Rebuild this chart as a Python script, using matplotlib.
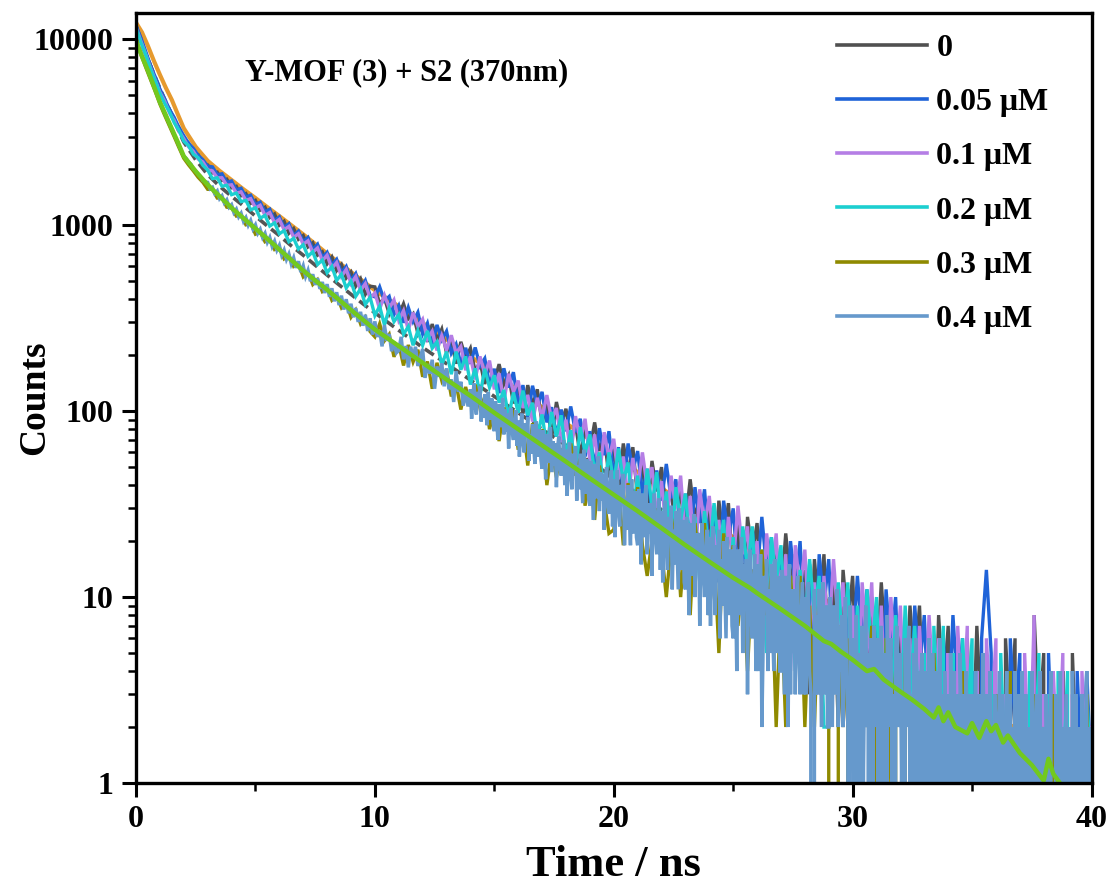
import numpy as np
import matplotlib
matplotlib.use("Agg")
import matplotlib.pyplot as plt
from matplotlib.ticker import MultipleLocator, LogLocator, NullFormatter

# ---------------- data ----------------
labels = ["0", "0.05 \u03bcM", "0.1 \u03bcM", "0.2 \u03bcM", "0.3 \u03bcM", "0.4 \u03bcM"]
colors = ["#505050", "#1f63d8", "#b57ee5", "#1ccfd0", "#8f8a00", "#6699cc"]

step_coarse = 0.2     # ns per point, series 0 ... 0.3 uM
step_04_early = 0.1   # ns per point, 0.4 uM, 0 - 14 ns
step_04_late = 0.05   # ns per point, 0.4 uM, 14 - 40 ns
t_04_split = 14.0

counts_0 = [
    11800, 10150, 8400, 7300, 6080, 5350, 4640, 4210, 3660, 3350,
    2920, 2770, 2470, 2400, 2150, 2110, 1910, 1930, 1740, 1770,
    1590, 1620, 1440, 1480, 1310, 1360, 1205, 1250, 1100, 1150,
    1000, 1050, 905, 960, 840, 880, 765, 805, 690, 720,
    620, 675, 570, 615, 520, 560, 470, 515, 425, 470,
    466, 378, 406, 334, 385, 329, 378, 314, 334, 262,
    299, 236, 294, 242, 276, 205, 241, 180, 236, 194,
    218, 163, 185, 140, 177, 144, 179, 139, 156, 110,
    136, 97, 138, 107, 131, 86, 111, 72, 112, 86,
    103, 68, 85, 57, 83, 62, 87, 61, 74, 44,
    63, 38, 67, 47, 64, 34, 52, 27, 54, 37,
    50, 28, 39, 21, 39, 25, 43, 26, 36, 16,
    30, 13, 33, 20, 32, 13, 25, 8, 27, 17,
    25, 10, 19, 6, 19, 10, 22, 12, 17, 5,
    14, 3, 16, 8, 17, 4, 12, 2, 14, 7,
    13, 3, 9, 2, 10, 4, 12, 5, 9, 2,
    7, 2, 9, 4, 9, 2, 6, 1, 8, 3,
    7, 1, 4, 0, 6, 1, 7, 2, 5, 0,
    3, 0, 6, 2, 6, 0, 4, 0, 8, 2,
    5, 0, 2, 0, 4, 0, 5, 1, 3, 0,
    2,
]
counts_005 = [
    11900, 10200, 8650, 7280, 6300, 5400, 4780, 4200, 3800, 3350,
    3030, 2760, 2590, 2380, 2250, 2080, 2060, 1870, 1890, 1700,
    1730, 1550, 1580, 1420, 1450, 1290, 1330, 1180, 1220, 1060,
    1110, 970, 1020, 880, 930, 815, 860, 740, 790, 670,
    715, 610, 655, 555, 600, 505, 550, 460, 505, 420,
    412, 466, 392, 414, 331, 370, 299, 361, 303, 340,
    260, 297, 229, 291, 242, 269, 205, 229, 179, 219,
    180, 220, 175, 192, 139, 169, 125, 170, 134, 162,
    109, 138, 93, 137, 107, 127, 87, 105, 73, 102,
    78, 106, 77, 91, 57, 78, 49, 81, 58, 78,
    44, 64, 36, 67, 48, 61, 36, 49, 28, 48,
    33, 52, 34, 43, 21, 36, 19, 39, 25, 38,
    17, 31, 12, 33, 21, 30, 13, 23, 10, 23,
    13, 27, 14, 21, 7, 17, 6, 20, 11, 20,
    6, 15, 3, 17, 9, 16, 4, 11, 2, 11,
    5, 13, 6, 11, 2, 8, 2, 11, 5, 10,
    2, 7, 2, 9, 4, 8, 2, 5, 1, 6,
    2, 8, 3, 6, 0, 4, 0, 6, 14, 5,
    0, 4, 0, 6, 2, 5, 0, 3, 0, 4,
    0, 5, 1, 3, 0, 2, 0, 4, 1, 4,
    1,
]
counts_01 = [
    11600, 9800, 8350, 7050, 6050, 5180, 4650, 4020, 3660, 3200,
    2920, 2640, 2500, 2270, 2190, 1990, 1960, 1800, 1800, 1640,
    1650, 1490, 1510, 1360, 1390, 1240, 1280, 1130, 1170, 1030,
    1075, 945, 985, 860, 900, 790, 825, 715, 755, 645,
    690, 585, 630, 530, 578, 485, 530, 445, 485, 405,
    432, 354, 420, 358, 396, 308, 347, 272, 339, 285,
    312, 244, 269, 212, 255, 213, 256, 205, 223, 166,
    197, 148, 197, 158, 187, 131, 160, 113, 159, 127,
    146, 104, 122, 88, 118, 92, 122, 90, 104, 68,
    90, 59, 94, 69, 91, 54, 75, 44, 77, 56,
    71, 43, 57, 34, 56, 39, 60, 39, 50, 27,
    42, 22, 45, 30, 45, 20, 35, 15, 38, 24,
    35, 17, 26, 12, 27, 15, 31, 17, 24, 9,
    20, 7, 22, 13, 22, 7, 17, 4, 19, 11,
    18, 6, 12, 3, 13, 6, 16, 7, 12, 2,
    9, 2, 12, 5, 12, 2, 9, 2, 10, 4,
    9, 2, 6, 1, 7, 2, 8, 3, 6, 0,
    5, 0, 7, 2, 7, 0, 4, 0, 6, 2,
    6, 0, 3, 0, 4, 0, 5, 1, 8, 0,
    3, 0, 4, 1, 5, 0, 3, 0, 4, 1,
    2,
]
counts_02 = [
    11500, 9650, 8300, 6950, 6000, 5120, 4520, 4080, 3560, 3240,
    2830, 2680, 2410, 2310, 2100, 1980, 1780, 1800, 1620, 1640,
    1460, 1490, 1340, 1360, 1210, 1240, 1090, 1130, 990, 1030,
    900, 935, 815, 850, 745, 785, 680, 720, 615, 650,
    555, 600, 505, 545, 460, 500, 415, 455, 375, 410,
    327, 367, 291, 357, 303, 330, 259, 285, 226, 271,
    226, 270, 218, 236, 177, 209, 158, 209, 167, 197,
    139, 170, 121, 169, 134, 156, 111, 130, 93, 126,
    98, 129, 95, 111, 73, 96, 64, 99, 73, 95,
    57, 79, 47, 82, 60, 75, 46, 60, 37, 60,
    41, 63, 42, 53, 28, 45, 24, 49, 31, 47,
    22, 37, 17, 39, 26, 36, 18, 27, 12, 29,
    17, 32, 18, 26, 10, 21, 8, 24, 14, 24,
    8, 18, 5, 21, 12, 19, 6, 13, 4, 14,
    7, 16, 8, 13, 2, 2, 4, 12, 5, 12,
    2, 9, 2, 11, 5, 10, 2, 6, 2, 8,
    2, 9, 3, 7, 2, 5, 0, 7, 2, 7,
    0, 5, 0, 6, 2, 6, 0, 3, 0, 4,
    0, 5, 1, 4, 0, 3, 0, 4, 1, 5,
    0, 3, 0, 4, 1, 4, 0, 2, 0, 3,
    1,
]
counts_03 = [
    10200, 8300, 7100, 6100, 5250, 4480, 3900, 3420, 2990, 2610,
    2290, 2110, 1960, 1810, 1700, 1560, 1560, 1400, 1400, 1250,
    1240, 1120, 1130, 1005, 1020, 895, 920, 815, 840, 740,
    760, 660, 690, 600, 620, 528, 560, 480, 510, 440,
    460, 395, 420, 360, 385, 320, 350, 295, 320, 268,
    251, 295, 239, 259, 196, 229, 176, 227, 184, 214,
    153, 185, 132, 182, 146, 168, 120, 141, 102, 135,
    106, 139, 104, 119, 80, 103, 69, 105, 79, 101,
    62, 85, 51, 86, 64, 80, 40, 62, 44, 63,
    45, 67, 45, 56, 31, 47, 26, 51, 33, 22,
    23, 39, 19, 41, 27, 39, 19, 13, 20, 30,
    18, 10, 19, 27, 10, 21, 8, 25, 14, 25,
    8, 18, 5, 22, 12, 19, 7, 13, 4, 14,
    7, 18, 8, 13, 2, 10, 2, 13, 5, 13,
    2, 9, 2, 11, 5, 8, 0, 7, 2, 6,
    0, 0, 5, 2, 7, 3, 0, 6, 1, 4,
    0, 5, 2, 0, 4, 2, 0, 5, 1, 0,
    3, 0, 2, 4, 0, 1, 3, 0, 2, 0,
    3, 0, 1, 4, 0, 0, 2, 0, 3, 1,
    2, 0, 3, 0, 1, 0, 2, 1, 0, 3,
    0,
]
# 0.4 uM, 0.0 ... 13.9 ns
counts_04_early = [
    9800, 9150, 8500, 7900, 7300, 6800, 6300, 5830, 5390, 4980,
    4600, 4300, 4030, 3760, 3520, 3300, 3080, 2880, 2690, 2510,
    2350, 2290, 2190, 2130, 2010, 1960, 1880, 1830, 1740, 1710,
    1700, 1570, 1600, 1480, 1530, 1390, 1440, 1320, 1370, 1250,
    1290, 1170, 1220, 1110, 1160, 1050, 1100, 1000, 1060, 955,
    1005, 905, 950, 860, 905, 810, 860, 770, 820, 735,
    780, 690, 735, 655, 700, 620, 668, 590, 640, 560,
    605, 530, 572, 500, 545, 478, 518, 455, 495, 432,
    482, 412, 458, 390, 436, 372, 418, 352, 400, 336,
    378, 320, 358, 302, 342, 288, 330, 270, 316, 258,
    304, 251, 272, 223, 290, 239, 260, 210, 236, 206,
    212, 251, 190, 224, 172, 222, 194, 222, 175, 194,
    216, 151, 179, 159, 189, 132, 174, 153, 181, 136,
    170, 131, 148, 112, 164, 127, 144, 107, 128, 106,
]
# 0.4 uM, 14.0 ... 40.0 ns
counts_04_late = [
    131, 91, 119, 141, 105, 96, 127, 112, 136, 88, 111, 92, 123, 99, 84, 127, 90, 106, 117, 87,
    78, 113, 91, 70, 109, 98, 82, 117, 75, 102, 78, 97, 63, 93, 104, 77, 70, 87, 101, 65,
    89, 57, 79, 97, 68, 60, 86, 73, 93, 54, 75, 59, 85, 65, 52, 88, 57, 71, 80, 55,
    49, 79, 60, 43, 75, 66, 53, 82, 47, 69, 51, 67, 39, 64, 73, 50, 45, 58, 70, 40,
    62, 35, 54, 68, 45, 38, 59, 49, 65, 33, 51, 38, 59, 43, 32, 62, 36, 47, 55, 34,
    31, 54, 40, 26, 52, 44, 34, 57, 29, 47, 33, 46, 23, 43, 50, 32, 28, 39, 48, 24,
    43, 21, 36, 48, 29, 24, 40, 32, 46, 19, 34, 23, 40, 27, 19, 43, 22, 31, 37, 21,
    19, 38, 26, 15, 36, 30, 21, 40, 17, 32, 22, 32, 13, 30, 36, 21, 17, 27, 34, 14,
    29, 12, 24, 33, 18, 14, 27, 21, 31, 11, 23, 15, 29, 18, 11, 30, 14, 21, 26, 12,
    11, 27, 17, 8, 25, 20, 13, 28, 10, 22, 14, 22, 7, 20, 25, 13, 10, 17, 23, 8,
    21, 7, 17, 24, 12, 8, 19, 14, 23, 6, 16, 9, 20, 11, 6, 21, 8, 14, 18, 7,
    6, 19, 11, 4, 18, 14, 8, 21, 5, 15, 9, 16, 3, 14, 18, 8, 6, 12, 17, 4,
    15, 4, 11, 17, 2, 5, 13, 9, 16, 4, 11, 5, 15, 7, 4, 16, 5, 10, 13, 4,
    4, 14, 7, 3, 13, 9, 2, 15, 3, 11, 5, 11, 3, 10, 13, 5, 3, 8, 12, 3,
    10, 3, 7, 12, 4, 3, 0, 0, 11, 3, 8, 3, 11, 5, 2, 12, 3, 6, 9, 2,
    2, 10, 5, 2, 9, 6, 3, 11, 2, 7, 4, 8, 2, 7, 10, 4, 2, 0, 9, 2,
    6, 1, 4, 8, 2, 0, 5, 3, 7, 1, 4, 9, 2, 5, 0, 6, 3, 1, 7, 4,
    2, 6, 0, 4, 7, 1, 3, 5, 0, 8, 2, 4, 6, 1, 3, 0, 5, 7, 2, 4,
    5, 1, 3, 0, 6, 2, 4, 7, 1, 3, 0, 5, 2, 6, 1, 4, 0, 3, 5, 2,
    1, 4, 0, 3, 6, 2, 0, 5, 1, 3, 4, 0, 2, 6, 1, 3, 0, 4, 2, 1,
    3, 0, 5, 1, 2, 4, 0, 3, 1, 0, 5, 2, 1, 3, 0, 4, 2, 0, 3, 1,
    0, 3, 1, 4, 0, 2, 3, 0, 1, 5, 2, 0, 3, 1, 0, 4, 2, 1, 0, 3,
    2, 0, 1, 4, 0, 3, 1, 0, 2, 4, 1, 0, 3, 0, 2, 1, 4, 0, 1, 3,
    0, 2, 4, 0, 1, 3, 0, 2, 1, 0, 4, 1, 0, 2, 3, 0, 1, 4, 0, 2,
    1, 0, 3, 1, 0, 2, 4, 0, 1, 0, 3, 2, 0, 1, 4, 0, 2, 1, 0, 3,
    0, 2, 1, 0, 4, 1, 0, 3, 0, 2, 1, 0, 3, 1, 0, 2, 4, 0, 1, 2,
    1,
]

# fitted decay curves (time in ns, counts)
fit_time = [0, 0.25, 0.5, 0.75, 1, 1.25, 1.5, 1.75, 2, 2.5, 3, 3.5, 4, 4.5, 5, 5.5, 6, 6.5,
            7, 7.5, 8, 8.5, 9, 9.5, 10, 11, 12, 13, 14, 15, 16, 17, 18, 19, 20, 21, 22, 23,
            24, 25, 26, 27, 28, 29, 30, 31, 32, 33, 34, 35, 36, 37, 38, 39, 40]
fit_upper = [12300, 10900, 9200, 7650, 6450, 5480, 4720, 3950, 3320, 2640, 2220, 1960, 1750,
             1560, 1400, 1250, 1120, 1000, 893, 793, 703, 628, 560, 500, 447, 366, 298, 243,
             197, 160, 129, 105, 86, 70.5, 57.5, 47, 38.5, 31.5, 25.8, 21, 17.2, 14.1, 11.5,
             9.4, 7.7, 6.3, 5.15, 4.2, 3.45, 2.8, 2.3, 1.9, 1.55, 1.27, 1.04]
fit_middle = [10900, 9300, 7800, 6500, 5450, 4600, 3900, 3300, 2800, 2250, 1870, 1620, 1430,
              1270, 1120, 990, 880, 775, 690, 610, 540, 478, 425, 378, 338, 272, 220, 180,
              147, 120, 98, 80, 65.5, 53.5, 44, 36, 29.5, 24.2, 19.8, 16.2, 13.2, 10.8, 8.9,
              7.3, 5.9, 4.85, 4.0, 3.25, 2.7, 2.2, 1.8, 1.5, 1.25, 1.05, 0.9]

green_time = [0, 0.25, 0.5, 0.75, 1, 1.25, 1.5, 1.75, 2, 2.5, 3, 3.5, 4, 4.5, 5, 5.5, 6, 6.5,
              7, 7.5, 8, 8.5, 9, 9.5, 10, 11, 12, 13, 14, 15, 16, 17, 18, 19, 20, 21, 22, 23,
              24, 25, 25.7, 26, 27, 28, 28.8, 29.1, 29.5, 30, 30.6, 30.9, 31.3, 32, 32.5, 33,
              33.4, 33.6, 33.8, 34.0, 34.3, 34.8, 35.0, 35.3, 35.6, 35.8, 36.0, 36.3, 36.5,
              37.0, 37.5, 38.0, 38.2, 38.4, 38.8]
green_fit = [9800, 8100, 6800, 5600, 4600, 3900, 3300, 2800, 2350, 1950, 1650, 1430, 1240, 1090,
             960, 845, 740, 650, 570, 505, 450, 397, 350, 310, 275, 224, 182, 148, 121, 98, 80,
             65.5, 53.5, 43.5, 35.5, 29, 23.5, 19, 15.5, 12.7, 11.2, 10.5, 8.6, 7.0, 5.8, 5.6,
             5.1, 4.6, 4.0, 4.1, 3.6, 3.1, 2.8, 2.5, 2.25, 2.55, 2.15, 2.4, 2.0, 1.85, 2.1,
             1.75, 2.15, 1.9, 2.05, 1.65, 1.8, 1.45, 1.25, 1.03, 1.35, 1.12, 0.95]

title_text = "Y-MOF (3) + S2 (370nm)"
x_label = "Time / ns"
y_label = "Counts"
x_ticks = [0, 10, 20, 30, 40]
y_ticks = [1, 10, 100, 1000, 10000]
y_ticklabels = ["1", "10", "100", "1000", "10000"]

# ---------------- figure ----------------
plt.rcParams["font.family"] = ["Liberation Serif", "DejaVu Serif"]
plt.rcParams["font.weight"] = "bold"
plt.rcParams["axes.labelweight"] = "bold"

fig = plt.figure(figsize=(11.14, 8.90), dpi=100)
ax = fig.add_axes([136 / 1114, 1 - 783 / 890, (1091.5 - 136) / 1114, (783 - 13) / 890])
ax.set_yscale("log", nonpositive="clip")

# fit curves below the data
ax.plot(fit_time, fit_upper, color="#e69a2e", lw=3.0, zorder=2)
ax.plot(fit_time, fit_middle, color="#555555", lw=2.6, ls=(0, (3, 1.5)), zorder=2)

t_coarse_series = [counts_0, counts_005, counts_01, counts_02, counts_03]
for i, vals in enumerate(t_coarse_series):
    t = np.arange(len(vals)) * step_coarse
    ax.plot(t, vals, color=colors[i], lw=2.4, label=labels[i], zorder=3 + i,
            solid_joinstyle="miter")

t04 = np.concatenate([np.arange(len(counts_04_early)) * step_04_early,
                      t_04_split + np.arange(len(counts_04_late)) * step_04_late])
v04 = np.concatenate([counts_04_early, counts_04_late])
ax.plot(t04, v04, color=colors[5], lw=2.5, label=labels[5], zorder=9,
        solid_joinstyle="miter")

ax.plot(green_time, green_fit, color="#72c91e", lw=3.2, zorder=20)

ax.set_xlim(0, 40)
ax.set_ylim(1, 13850)

ax.set_xticks(x_ticks)
ax.set_xticklabels([str(v) for v in x_ticks])
ax.xaxis.set_minor_locator(MultipleLocator(5))
ax.set_yticks(y_ticks)
ax.set_yticklabels(y_ticklabels)
ax.yaxis.set_minor_locator(LogLocator(base=10, subs=np.arange(2, 10)))
ax.yaxis.set_minor_formatter(NullFormatter())

ax.tick_params(which="major", direction="out", length=10, width=2.2, labelsize=23, pad=6)
ax.tick_params(which="minor", direction="out", length=5.5, width=1.8)
ax.tick_params(top=False, right=False)
for sp in ax.spines.values():
    sp.set_linewidth(2.4)
    sp.set_zorder(30)

ax.set_xlabel(x_label, fontsize=32, fontweight="bold")
ax.set_ylabel(y_label, fontsize=27, fontweight="bold")
ax.xaxis.set_label_coords(0.5, -0.106)
ax.xaxis.label.set_va("center")
ax.yaxis.set_label_coords(-0.106, 0.5)
ax.yaxis.label.set_va("center")
ax.yaxis.label.set_ha("center")

ax.text(0.114, 0.922, title_text, transform=ax.transAxes, fontsize=22, fontweight="bold",
        ha="left", va="center", zorder=40)

leg = ax.legend(loc="upper left", bbox_to_anchor=(0.7106, 1.0026), frameon=False, fontsize=23,
                handlelength=2.8, handletextpad=0.3, labelspacing=0.78, borderaxespad=0.3)
for line in leg.get_lines():
    line.set_linewidth(2.6)

print(len(counts_04_early), len(counts_04_late), [len(s) for s in t_coarse_series])
fig.savefig("out.png", dpi=100)
